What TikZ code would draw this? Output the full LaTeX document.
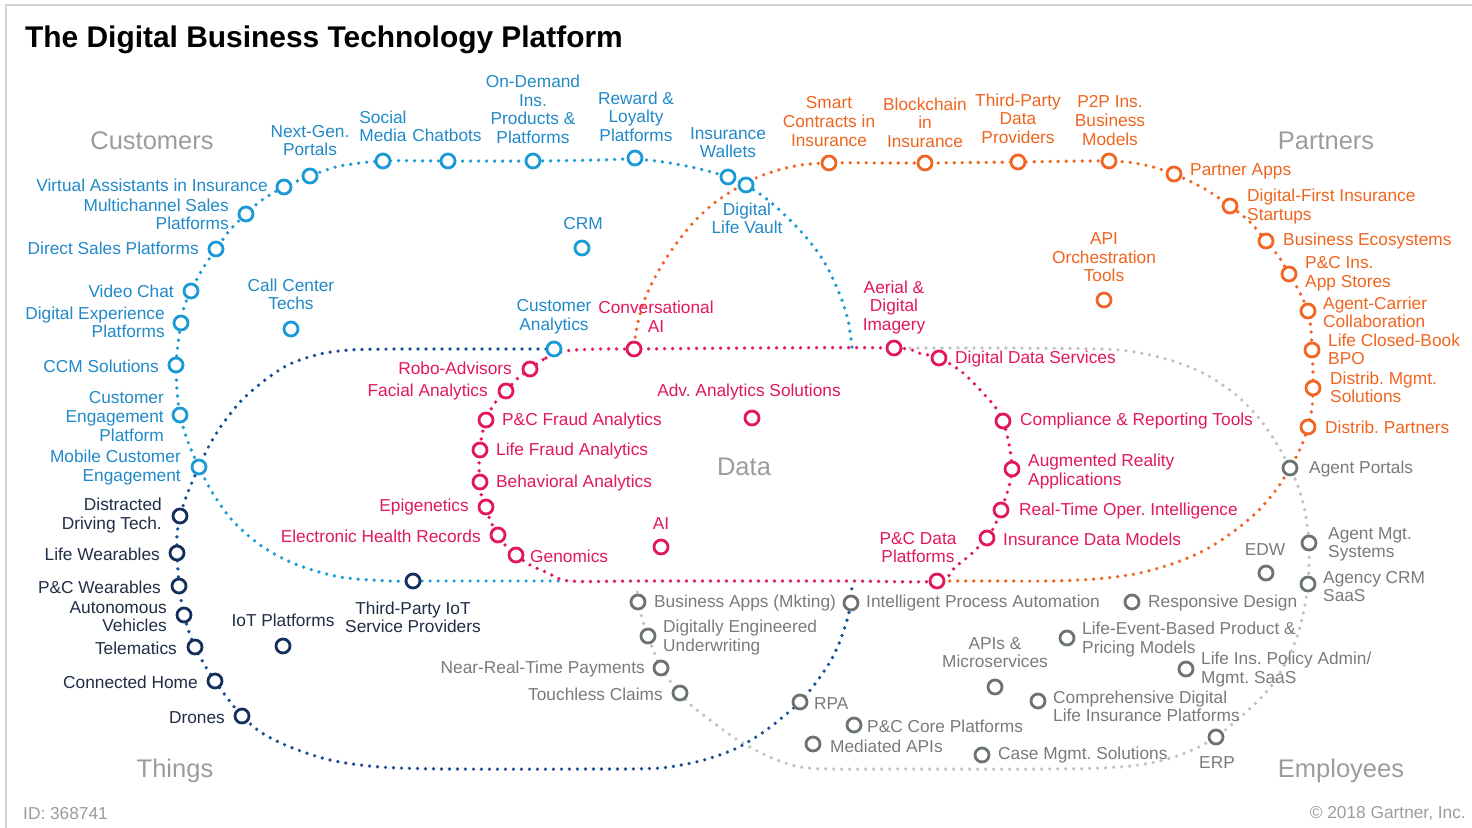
\documentclass[tikz,border=0pt]{standalone}
\usepackage{fontspec}
\setmainfont{Liberation Sans}
\frenchspacing
\definecolor{cuDot}{HTML}{1B9AD6}
\definecolor{cuTxt}{HTML}{2189C8}
\definecolor{paDot}{HTML}{F26522}
\definecolor{paTxt}{HTML}{F0641E}
\definecolor{daDot}{HTML}{E2175D}
\definecolor{thMk}{HTML}{14305C}
\definecolor{thTxt}{HTML}{1F2D45}
\definecolor{thDot}{HTML}{1B4F94}
\definecolor{emMk}{HTML}{6B7472}
\definecolor{emTxt}{HTML}{7A7A7A}
\definecolor{emDot}{HTML}{C2C2C2}
\definecolor{regiongray}{HTML}{9C9C9C}
\definecolor{framegray}{HTML}{D3D3D3}
\newcommand\labfont{\fontsize{17.3}{18.6}\selectfont}
\newcommand\regfont{\fontsize{25.5}{28}\selectfont}
\tikzset{
  dotline/.style={line width=3.7pt, line cap=round, dash pattern=on 0pt off 8pt},
  mk/.style={circle, draw=#1, line width=2.8pt, fill=white, minimum size=14pt, inner sep=0pt},
  lab/.style={inner sep=0pt, font=\labfont, text=#1, yshift=-1.5pt},
  labE/.style={lab=#1, anchor=east, align=right},
  labW/.style={lab=#1, anchor=west, align=left},
  labC/.style={lab=#1, align=center},
  region/.style={inner sep=0pt, font=\regfont, text=regiongray, yshift=-1.5pt},
}
\begin{document}
\begin{tikzpicture}[x=1pt,y=-1pt]
\useasboundingbox (0,0) rectangle (1472,827);
% frame
\draw[framegray, line width=1.5pt] (1475,5) -- (6,5) -- (6,830);
% title and footer
\node[anchor=west, inner sep=0pt, yshift=-2.5pt, font=\fontsize{29.9}{32}\selectfont\bfseries] (title) at (25,37) {The Digital Business Technology Platform};
\node[anchor=west, lab=regiongray] (idtxt) at (23,812) {ID: 368741};
\node[anchor=east, lab=regiongray] (copy) at (1466,812) {\textcopyright\ 2018 Gartner, Inc.};
% region names
\node[region] (rCust) at (152,139) {Customers};
\node[region] (rPart) at (1326,139) {Partners};
\node[region] (rThing) at (175,769) {Things};
\node[region] (rEmp) at (1341,769) {Employees};
\node[region] (rData) at (744,465) {Data};

% ---- dotted loops ----
% Employees
\draw[dotline, emDot] plot[smooth, tension=0.5] coordinates {(894,348) (1000,348) (1100,349) (1135,352) (1170,360) (1205,374) (1235,394) (1258,417) (1275,441) (1290,468) (1300,492) (1306,517) (1309,543) (1309,564) (1308,584) (1304,610) (1297,637) (1285,664) (1268,690) (1245,713) (1216,737) (1190,751) (1160,761) (1120,767) (1050,769) (900,769) (833,769) (800,767) (777,760) (757,751) (733,737) (710,720) (692,706) (680,693) (670,681) (661,668) (654,652) (648,636) (642,618) (638,602) (637,586)};
% Partners
\draw[dotline, paDot] plot[smooth, tension=0.5] coordinates {(634,345) (638,322) (646,296) (658,272) (673,248) (692,224) (713,204) (737,188) (763,175) (795,166) (829,163) (925,163) (1018,162) (1109,161) (1145,165) (1174,174) (1205,189) (1230,206) (1250,222) (1266,241) (1279,257) (1289,274) (1299,291) (1308,311) (1311,330) (1312,350) (1313,370) (1313,388) (1312,408) (1308,427) (1301,447) (1290,468) (1276,490) (1257,512) (1233,532) (1205,550) (1172,564) (1135,574) (1095,579) (1050,581) (990,581) (945,581)};
% Things
\draw[dotline, thDot] plot[smooth, tension=0.5] coordinates {(554,349) (480,349) (400,349) (350,350) (320,354) (290,364) (265,380) (242,400) (224,422) (210,444) (199,467) (188,492) (180,516) (177,535) (177,553) (178,570) (179,586) (181,600) (184,615) (189,632) (195,647) (204,664) (215,681) (228,699) (242,716) (262,733) (290,747) (330,760) (380,767) (450,769) (600,769) (660,768) (700,761) (735,749) (765,731) (790,711) (800,702) (815,684) (830,662) (840,641) (847,620) (851,603) (852,583)};
% Customers
\draw[dotline, cuDot] plot[smooth, tension=0.5] coordinates {(852,347) (848,320) (840,295) (826,265) (810,242) (790,220) (768,200) (746,185) (728,177) (700,169) (670,163) (635,159) (600,160) (533,161) (448,161) (383,161) (340,166) (310,176) (284,187) (262,200) (246,214) (230,230) (216,249) (202,270) (191,291) (184,307) (181,323) (178,344) (176,365) (177,390) (180,415) (188,442) (199,467) (212,492) (232,520) (260,545) (295,564) (340,577) (390,581) (413,581) (500,581) (565,581)};
% Data
\draw[dotline, daDot] plot[smooth cycle, tension=0.5] coordinates {(530,369) (546,358) (565,351) (600,349) (634,349) (750,348) (894,348) (918,353) (939,358) (962,372) (982,392) (996,408) (1003,421) (1009,444) (1012,469) (1008,490) (1001,510) (995,525) (987,538) (970,555) (955,567) (937,581) (850,581) (750,581) (640,581) (570,581) (548,573) (530,565) (516,555) (505,545) (498,535) (490,520) (486,507) (481,494) (480,482) (479,466) (480,450) (482,435) (486,420) (494,404) (506,391) (517,379)};

% ---- Customers ----
\node[mk=cuDot] (ngp) at (310,176) {};
\node[labC=cuTxt] (ngpT) at (310,139) {Next-Gen.\\Portals};
\node[mk=cuDot] (smd) at (383,161) {};
\node[labC=cuTxt] (smdT) at (383,125) {Social\\Media};
\node[mk=cuDot] (cbt) at (448,161) {};
\node[labC=cuTxt] (cbtT) at (447,134) {Chatbots};
\node[mk=cuDot] (odi) at (533,161) {};
\node[labC=cuTxt] (odiT) at (533,108) {On-Demand\\Ins.\\Products \&\\Platforms};
\node[mk=cuDot] (rlp) at (635,158) {};
\node[labC=cuTxt] (rlpT) at (636,115) {Reward \&\\Loyalty\\Platforms};
\node[mk=cuDot] (iwl) at (728,177) {};
\node[labC=cuTxt] (iwlT) at (728,141) {Insurance\\Wallets};
\node[mk=cuDot] (dlv) at (746,185) {};
\node[labC=cuTxt] (dlvT) at (747,217) {Digital\\Life Vault};
\node[mk=cuDot] (vai) at (284,187) {};
\node[labE=cuTxt] (vaiT) at (268,184) {Virtual Assistants in Insurance};
\node[mk=cuDot] (msp) at (246,214) {};
\node[labE=cuTxt] (mspT) at (229,213) {Multichannel Sales\\Platforms};
\node[mk=cuDot] (dsp) at (216,249) {};
\node[labE=cuTxt] (dspT) at (199,247) {Direct Sales Platforms};
\node[mk=cuDot] (vch) at (191,291) {};
\node[labE=cuTxt] (vchT) at (174,290) {Video Chat};
\node[mk=cuDot] (dep) at (181,323) {};
\node[labE=cuTxt] (depT) at (165,321) {Digital Experience\\Platforms};
\node[mk=cuDot] (ccm) at (176,365) {};
\node[labE=cuTxt] (ccmT) at (159,365) {CCM Solutions};
\node[mk=cuDot] (cep) at (180,415) {};
\node[labE=cuTxt] (cepT) at (164,415) {Customer\\Engagement\\Platform};
\node[mk=cuDot] (mce) at (199,467) {};
\node[labE=cuTxt] (mceT) at (181,466) {Mobile Customer\\Engagement};
\node[mk=cuDot] (cct) at (291,329) {};
\node[labC=cuTxt] (cctT) at (291,293) {Call Center\\Techs};
\node[mk=cuDot] (crm) at (582,248) {};
\node[labC=cuTxt] (crmT) at (583,222) {CRM};
\node[mk=cuDot] (cua) at (554,349) {};
\node[labC=cuTxt] (cuaT) at (554,315) {Customer\\Analytics};

% ---- Partners ----
\node[mk=paDot] (sci) at (829,163) {};
\node[labC=paTxt] (sciT) at (829,120) {Smart\\Contracts in\\Insurance};
\node[mk=paDot] (bci) at (925,163) {};
\node[labC=paTxt] (bciT) at (925,121) {Blockchain\\in\\Insurance};
\node[mk=paDot] (tpd) at (1018,162) {};
\node[labC=paTxt] (tpdT) at (1018,117) {Third-Party\\Data\\Providers};
\node[mk=paDot] (p2p) at (1109,161) {};
\node[labC=paTxt] (p2pT) at (1110,119) {P2P Ins.\\Business\\Models};
\node[mk=paDot] (pap) at (1174,174) {};
\node[labW=paTxt] (papT) at (1190,170) {Partner Apps};
\node[mk=paDot] (dfi) at (1230,206) {};
\node[labW=paTxt] (dfiT) at (1247,205) {Digital-First Insurance\\Startups};
\node[mk=paDot] (bec) at (1266,241) {};
\node[labW=paTxt] (becT) at (1283,240) {Business Ecosystems};
\node[mk=paDot] (pas) at (1289,274) {};
\node[labW=paTxt] (pasT) at (1305,272) {P\&C Ins.\\App Stores};
\node[mk=paDot] (acc) at (1308,311) {};
\node[labW=paTxt] (accT) at (1323,311) {Agent-Carrier\\Collaboration};
\node[mk=paDot] (lcb) at (1312,350) {};
\node[labW=paTxt] (lcbT) at (1328,348) {Life Closed-Book\\BPO};
\node[mk=paDot] (dms) at (1313,388) {};
\node[labW=paTxt] (dmsT) at (1330,386) {Distrib. Mgmt.\\Solutions};
\node[mk=paDot] (dpa) at (1308,427) {};
\node[labW=paTxt] (dpaT) at (1325,426) {Distrib. Partners};
\node[mk=paDot] (aot) at (1104,300) {};
\node[labC=paTxt] (aotT) at (1104,256) {API\\Orchestration\\Tools};

% ---- Data ----
\node[mk=daDot] (cai) at (634,349) {};
\node[labC=daDot] (caiT) at (656,315) {Conversational\\AI};
\node[mk=daDot] (rob) at (530,369) {};
\node[labE=daDot] (robT) at (512,367) {Robo-Advisors};
\node[mk=daDot] (fac) at (506,391) {};
\node[labE=daDot] (facT) at (488,391) {Facial Analytics};
\node[mk=daDot] (pcf) at (486,420) {};
\node[labW=daDot] (pcfT) at (502,420) {P\&C Fraud Analytics};
\node[mk=daDot] (lfa) at (480,450) {};
\node[labW=daDot] (lfaT) at (496,450) {Life Fraud Analytics};
\node[mk=daDot] (bha) at (480,482) {};
\node[labW=daDot] (bhaT) at (496,482) {Behavioral Analytics};
\node[mk=daDot] (epi) at (486,507) {};
\node[labE=daDot] (epiT) at (469,506) {Epigenetics};
\node[mk=daDot] (ehr) at (498,535) {};
\node[labE=daDot] (ehrT) at (481,535) {Electronic Health Records};
\node[mk=daDot] (gen) at (516,555) {};
\node[labW=daDot] (genT) at (530,555) {Genomics};
\node[mk=daDot] (aii) at (661,547) {};
\node[labC=daDot] (aiiT) at (661,522) {AI};
\node[mk=daDot] (aas) at (752,418) {};
\node[labC=daDot] (aasT) at (749,391) {Adv. Analytics Solutions};
\node[mk=daDot] (adi) at (894,348) {};
\node[labC=daDot] (adiT) at (894,306) {Aerial \&\\Digital\\Imagery};
\node[mk=daDot] (dds) at (939,358) {};
\node[labW=daDot] (ddsT) at (955,358) {Digital Data Services};
\node[mk=daDot] (crt) at (1003,421) {};
\node[labW=daDot] (crtT) at (1020,420) {Compliance \& Reporting Tools};
\node[mk=daDot] (ara) at (1012,469) {};
\node[labW=daDot] (araT) at (1028,470) {Augmented Reality\\Applications};
\node[mk=daDot] (rto) at (1001,510) {};
\node[labW=daDot] (rtoT) at (1019,510) {Real-Time Oper. Intelligence};
\node[mk=daDot] (idm) at (987,538) {};
\node[labW=daDot] (idmT) at (1003,538) {Insurance Data Models};
\node[mk=daDot] (pdp) at (937,581) {};
\node[labC=daDot] (pdpT) at (918,546) {P\&C Data\\Platforms};

% ---- Things ----
\node[mk=thMk] (ddt) at (180,516) {};
\node[labE=thTxt] (ddtT) at (162,514) {Distracted\\Driving Tech.};
\node[mk=thMk] (lwe) at (177,553) {};
\node[labE=thTxt] (lweT) at (160,553) {Life Wearables};
\node[mk=thMk] (pwe) at (179,586) {};
\node[labE=thTxt] (pweT) at (161,586) {P\&C Wearables};
\node[mk=thMk] (auv) at (184,615) {};
\node[labE=thTxt] (auvT) at (167,615) {Autonomous\\Vehicles};
\node[mk=thMk] (tel) at (195,647) {};
\node[labE=thTxt] (telT) at (177,647) {Telematics};
\node[mk=thMk] (chm) at (215,681) {};
\node[labE=thTxt] (chmT) at (198,681) {Connected Home};
\node[mk=thMk] (drn) at (242,716) {};
\node[labE=thTxt] (drnT) at (225,716) {Drones};
\node[mk=thMk] (iot) at (283,646) {};
\node[labC=thTxt] (iotT) at (283,619) {IoT Platforms};
\node[mk=thMk] (tpi) at (413,581) {};
\node[labC=thTxt] (tpiT) at (413,616) {Third-Party IoT\\Service Providers};

% ---- Employees ----
\node[mk=emMk] (bam) at (638,602) {};
\node[labW=emTxt] (bamT) at (654,602) {Business Apps (Mkting)};
\node[mk=emMk] (ipa) at (851,603) {};
\node[labW=emTxt] (ipaT) at (866,602) {Intelligent Process Automation};
\node[mk=emMk] (deu) at (648,636) {};
\node[labW=emTxt] (deuT) at (663,636) {Digitally Engineered\\Underwriting};
\node[mk=emMk] (nrt) at (661,668) {};
\node[labE=emTxt] (nrtT) at (645,668) {Near-Real-Time Payments};
\node[mk=emMk] (tcl) at (680,693) {};
\node[labE=emTxt] (tclT) at (663,693) {Touchless Claims};
\node[mk=emMk] (rpa) at (800,702) {};
\node[labW=emTxt] (rpaT) at (814,702) {RPA};
\node[mk=emMk] (pcc) at (854,725) {};
\node[labW=emTxt] (pccT) at (867,725) {P\&C Core Platforms};
\node[mk=emMk] (mapi) at (813,744) {};
\node[labW=emTxt] (mapiT) at (830,745) {Mediated APIs};
\node[mk=emMk] (apm) at (995,687) {};
\node[labC=emTxt] (apmT) at (995,651) {APIs \&\\Microservices};
\node[mk=emMk] (cdl) at (1038,701) {};
\node[labW=emTxt] (cdlT) at (1053,705) {Comprehensive Digital\\Life Insurance Platforms};
\node[mk=emMk] (cms) at (982,755) {};
\node[labW=emTxt] (cmsT) at (998,754) {Case Mgmt. Solutions};
\node[mk=emMk] (leb) at (1067,638) {};
\node[labW=emTxt] (lebT) at (1082,638) {Life-Event-Based Product \&\\Pricing Models};
\node[mk=emMk] (rde) at (1132,602) {};
\node[labW=emTxt] (rdeT) at (1148,602) {Responsive Design};
\node[mk=emMk] (lip) at (1186,669) {};
\node[labW=emTxt] (lipT) at (1201,668) {Life Ins. Policy Admin/\\Mgmt. SaaS};
\node[mk=emMk] (edw) at (1266,573) {};
\node[labC=emTxt] (edwT) at (1265,548) {EDW};
\node[mk=emMk] (apo) at (1290,468) {};
\node[labW=emTxt] (apoT) at (1309,468) {Agent Portals};
\node[mk=emMk] (ams) at (1309,543) {};
\node[labW=emTxt] (amsT) at (1328,543) {Agent Mgt.\\Systems};
\node[mk=emMk] (acr) at (1308,584) {};
\node[labW=emTxt] (acrT) at (1323,585) {Agency CRM\\SaaS};
\node[mk=emMk] (erp) at (1216,737) {};
\node[labC=emTxt] (erpT) at (1217,761) {ERP};
\end{tikzpicture}
\end{document}
